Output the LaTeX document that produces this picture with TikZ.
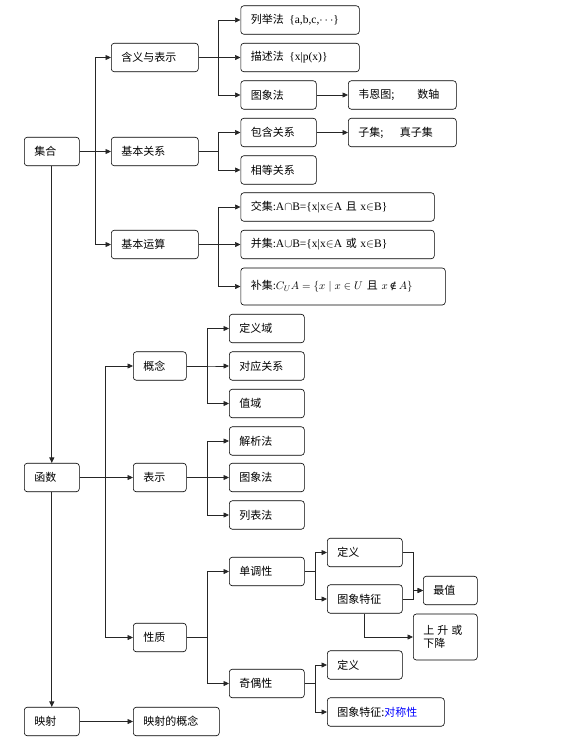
\documentclass[tikz,border=0pt]{standalone}
\usepackage{fontspec}
\setmainfont{Liberation Serif}
\newfontfamily\cjk{Noto Sans CJK SC}
\newfontfamily\symfont{DejaVu Serif}
\usetikzlibrary{arrows.meta}
\newcommand\lat[1]{{\rmfamily\fontsize{11.5}{13}\selectfont #1}}

\begin{document}
\begin{tikzpicture}[
    x=1pt, y=-1pt,
    font=\cjk\fontsize{11}{13}\selectfont,
    >={Triangle[length=5.5pt,width=5pt]},
    box/.style={draw, rounded corners=3pt, anchor=west, align=left,
                minimum height=28.5pt, inner xsep=10pt, line width=0.6pt,
                text width=#1},
    flow/.style={->, line width=0.7pt, draw=black!85}
]
\useasboundingbox (0,0) rectangle (570,740);
% sets
\node[box=35pt] (jihe) at (24,151.5) {集合};
\node[box=67pt] (hanyi) at (111,57.5) {含义与表示};
\node[box=67pt] (guanxi) at (111,151.5) {基本关系};
\node[box=67pt] (yunsuan) at (111,244.5) {基本运算};
\node[box=98.5pt] (liejv) at (240.5,20) {列举法\enspace\lat{\{a,b,c,$\cdots$\}}};
\node[box=98.5pt] (miaoshu) at (240.5,57.5) {描述法\enspace\lat{\{x|p(x)\}}};
\node[box=55.5pt] (tuxiang) at (240.5,95) {图象法};
\node[box=88pt] (venn) at (348,95) {韦恩图;\hspace{2.1em}数轴};
\node[box=55.5pt] (baohan) at (240.5,132.5) {包含关系};
\node[box=88pt] (ziji) at (348,132.5) {子集;\hspace{1.5em}真子集};
\node[box=55.5pt] (xiangdeng) at (240.5,170) {相等关系};
\node[box=173.5pt] (jiao) at (240.5,207)
    {交集\lat{:A$\cap$B=\{x|x$\in$A} 且 \lat{x$\in$B\}}};
\node[box=173.5pt] (bing) at (240.5,244.5)
    {并集\lat{:A$\cup$B=\{x|x$\in$A} 或 \lat{x$\in$B\}}};
\node[box=184.5pt, minimum height=37pt] (bu) at (240.5,286.5)
    {补集\lat{:}$C_U A=\{x\mid x\in U$\hspace{0.35em}且\hspace{0.35em}$x$\,{\symfont\fontsize{10}{12}\selectfont ∉}\,$A\}$};
% functions
\node[box=35pt] (hanshu) at (24,477.5) {函数};
\node[box=33pt] (gainian) at (133,366) {概念};
\node[box=33pt] (biaoshi) at (133,477.5) {表示};
\node[box=33pt] (xingzhi) at (133,637.5) {性质};
\node[box=55pt] (dingyiyu) at (229,328.5) {定义域};
\node[box=55pt] (duiying) at (229,366) {对应关系};
\node[box=55pt] (zhiyu) at (229,403.5) {值域};
\node[box=55pt] (jiexi) at (229,441) {解析法};
\node[box=55pt] (tuxiangf) at (229,477.5) {图象法};
\node[box=55pt] (liebiao) at (229,515) {列表法};
\node[box=55pt] (dandiao) at (229,571.5) {单调性};
\node[box=55pt] (jiou) at (229,683.5) {奇偶性};
\node[box=55pt] (dingyiA) at (327,552.5) {定义};
\node[box=55pt] (tezhengA) at (327,599) {图象特征};
\node[box=34pt] (zuizhi) at (423,590.5) {最值};
\node[box=44pt, minimum height=46pt] (shengjiang) at (413,637)
    {上\hspace{3pt}升\hspace{3pt}或\\下降};
\node[box=55pt] (dingyiB) at (327,665) {定义};
\node[box=97pt] (tezhengB) at (327,712) {图象特征:\textcolor{blue}{对称性}};
% mappings
\node[box=35pt] (yingshe) at (24,721.5) {映射};
\node[box=66pt] (yinggainian) at (133,721.5) {映射的概念};

% connectors
\foreach \c in {hanyi,guanxi,yunsuan}
    \draw[flow] (jihe.east) -- ++(16,0) |- (\c.west);
\foreach \c in {liejv,miaoshu,tuxiang}
    \draw[flow] (hanyi.east) -- ++(20,0) |- (\c.west);
\foreach \c in {baohan,xiangdeng}
    \draw[flow] (guanxi.east) -- ++(20,0) |- (\c.west);
\foreach \c in {jiao,bing,bu}
    \draw[flow] (yunsuan.east) -- ++(20,0) |- (\c.west);
\draw[flow] (tuxiang) -- (venn);
\draw[flow] (baohan) -- (ziji);
\draw[flow] (jihe) -- (hanshu);
\draw[flow] (hanshu) -- (yingshe);
\draw[flow] (yingshe) -- (yinggainian);
\foreach \c in {gainian,biaoshi,xingzhi}
    \draw[flow] (hanshu.east) -- ++(26,0) |- (\c.west);
\foreach \c in {dingyiyu,duiying,zhiyu}
    \draw[flow] (gainian.east) -- ++(21,0) |- (\c.west);
\foreach \c in {jiexi,tuxiangf,liebiao}
    \draw[flow] (biaoshi.east) -- ++(21,0) |- (\c.west);
\foreach \c in {dandiao,jiou}
    \draw[flow] (xingzhi.east) -- ++(21,0) |- (\c.west);
\foreach \c in {dingyiA,tezhengA}
    \draw[flow] (dandiao.east) -- ++(11,0) |- (\c.west);
\foreach \c in {dingyiB,tezhengB}
    \draw[flow] (jiou.east) -- ++(11,0) |- (\c.west);
\draw[flow] (dingyiA.east) -- ++(11,0) |- (zuizhi.west);
\draw[flow] (tezhengA.east) -- ++(11,0) |- (zuizhi.west);
\draw[flow] (tezhengA.south) |- (shengjiang.west);
\end{tikzpicture}
\end{document}
